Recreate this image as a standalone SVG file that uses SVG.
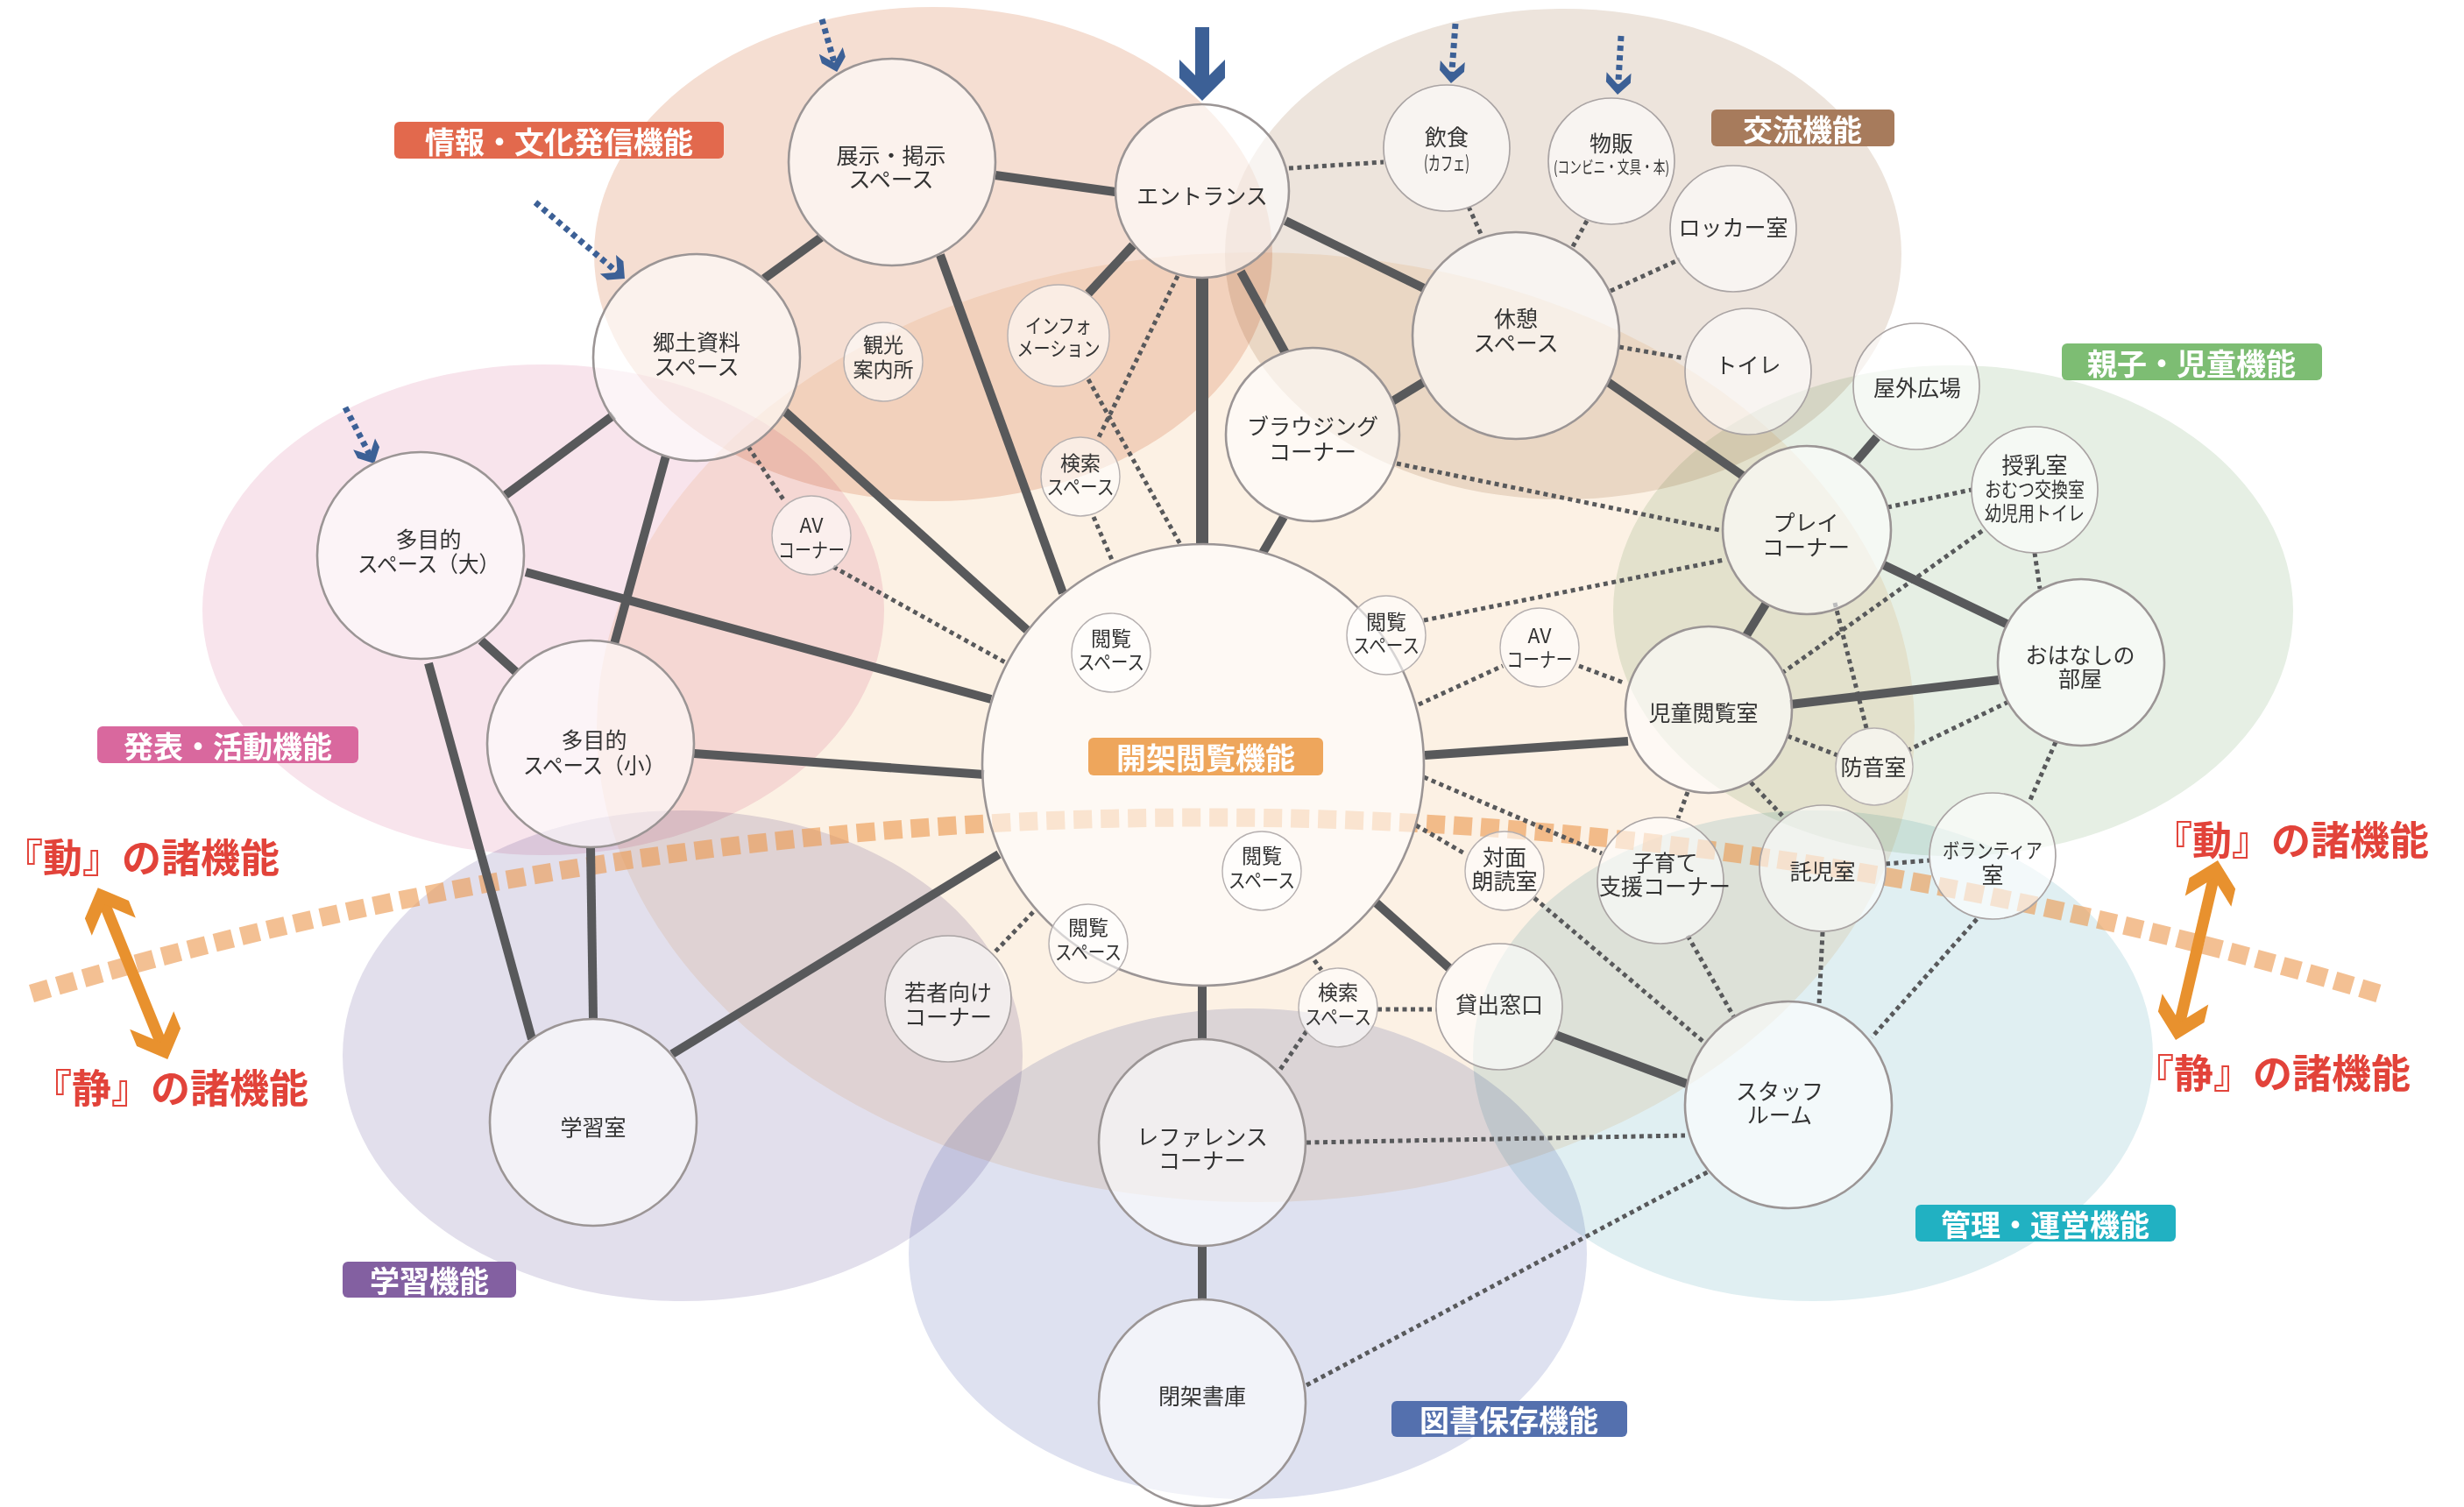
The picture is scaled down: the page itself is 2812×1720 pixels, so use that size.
<svg xmlns="http://www.w3.org/2000/svg" width="2812" height="1720" viewBox="0 0 2812 1720">
<defs>
<style>
text{font-family:'Noto Sans CJK JP','Noto Sans CJK SC','Noto Sans',sans-serif;}
.blob{mix-blend-mode:multiply;}
.c1{fill:#fff;fill-opacity:.6;stroke:#9b9595;stroke-width:2.6;}
.c2{fill:#fff;fill-opacity:.6;stroke:#aaa4a4;stroke-width:1.7;}
.c3{fill:#fff;fill-opacity:.6;stroke:#b6b0b0;stroke-width:1.4;}
.t{font-size:25px;fill:#333;text-anchor:middle;dominant-baseline:central;}
.ts{font-size:23px;fill:#333;text-anchor:middle;dominant-baseline:central;}
.sl{stroke:#58595b;stroke-width:10;fill:none;}
.dl{stroke:#58595b;stroke-width:5;stroke-dasharray:5 4.5;fill:none;}
.lab{font-size:34px;font-weight:bold;fill:#fff;text-anchor:middle;dominant-baseline:central;}
.red{font-size:45px;font-weight:bold;fill:#e2433a;dominant-baseline:central;}
.barr{stroke:#3c6096;stroke-width:7;stroke-dasharray:6 5;fill:none;}
.oarr{stroke:#e8912e;stroke-width:13;fill:none;}
</style>
<marker id="hbig" markerUnits="userSpaceOnUse" viewBox="-50 -30 52 60" markerWidth="52" markerHeight="60" refX="-10" refY="0" orient="auto">
<path d="M0,0 L-26,26 L-47,26 L-21,0 L-47,-26 L-26,-26 Z" fill="#3c6096"/>
</marker>
<marker id="hsm" markerUnits="userSpaceOnUse" viewBox="-28 -16 30 32" markerWidth="30" markerHeight="32" refX="-6" refY="0" orient="auto">
<path d="M0,0 L-14,14 L-25,14 L-11,0 L-25,-14 L-14,-14 Z" fill="#3c6096"/>
</marker>
<marker id="horg" markerUnits="userSpaceOnUse" viewBox="-52 -30 54 60" markerWidth="54" markerHeight="60" refX="-10" refY="0" orient="auto-start-reverse">
<path d="M0,0 L-27,27 L-48,27 L-21,0 L-48,-27 L-27,-27 Z" fill="#e8912e"/>
</marker>
</defs>
<rect x="0" y="0" width="2812" height="1720" fill="#fff"/>

<g id="zones">
<ellipse class="blob" cx="1433" cy="830" rx="752" ry="542" fill="#fcf1e4"/>
<ellipse class="blob" cx="1065" cy="290" rx="387" ry="282" fill="#f5ded2"/>
<ellipse class="blob" cx="1784" cy="290" rx="386" ry="280" fill="#ede4dc"/>
<ellipse class="blob" cx="620" cy="696" rx="389" ry="280" fill="#f8e4ec"/>
<ellipse class="blob" cx="779" cy="1205" rx="388" ry="280" fill="#e2dfec"/>
<ellipse class="blob" cx="1424" cy="1431" rx="387" ry="280" fill="#dee1f0"/>
<ellipse class="blob" cx="2069" cy="1205" rx="388" ry="280" fill="#e0eff2"/>
<ellipse class="blob" cx="2229" cy="697" rx="388" ry="280" fill="#e6efe4"/>
</g>

<g id="divider">
<path d="M36,1134 Q1376,732 2715,1134" fill="none" stroke="#eb9a50" stroke-opacity="0.62" stroke-width="21" stroke-dasharray="21 10"/>
</g>

<g id="connectors">
<line class="sl" x1="1136" y1="200" x2="1273" y2="219"/>
<line class="sl" x1="872" y1="318" x2="937" y2="271"/>
<line class="sl" x1="1073" y1="291" x2="1213" y2="677"/>
<line class="sl" x1="577" y1="565" x2="700" y2="474"/>
<line class="sl" x1="760" y1="520" x2="701" y2="735"/>
<line class="sl" x1="895" y1="469" x2="1172" y2="719"/>
<line class="sl" x1="600" y1="653" x2="1131" y2="798"/>
<line class="sl" x1="549" y1="731" x2="589" y2="767"/>
<line class="sl" x1="489" y1="757" x2="607" y2="1186"/>
<line class="sl" x1="674" y1="967" x2="677" y2="1163"/>
<line class="sl" x1="792" y1="860" x2="1123" y2="884"/>
<line class="sl" x1="767" y1="1203" x2="1140" y2="975"/>
<line class="sl" x1="1293" y1="280" x2="1242" y2="335"/>
<line class="sl" x1="1372" y1="317" x2="1372" y2="621" style="stroke-width:14"/>
<line class="sl" x1="1416" y1="310" x2="1467" y2="403"/>
<line class="sl" x1="1467" y1="252" x2="1625" y2="329"/>
<line class="sl" x1="1465" y1="590" x2="1441" y2="631"/>
<line class="sl" x1="1589" y1="458" x2="1625" y2="436"/>
<line class="sl" x1="1835" y1="436" x2="1989" y2="543"/>
<line class="sl" x1="2118" y1="527" x2="2142" y2="499"/>
<line class="sl" x1="2016" y1="688" x2="1992" y2="727"/>
<line class="sl" x1="2148" y1="644" x2="2292" y2="713"/>
<line class="sl" x1="2043" y1="804" x2="2281" y2="776"/>
<line class="sl" x1="1626" y1="862" x2="1858" y2="846"/>
<line class="sl" x1="1570" y1="1030" x2="1654" y2="1105"/>
<line class="sl" x1="1775" y1="1181" x2="1925" y2="1237"/>
<line class="sl" x1="1372" y1="1126" x2="1372" y2="1186"/>
<line class="sl" x1="1372" y1="1422" x2="1372" y2="1484"/>

<line class="dl" x1="1471" y1="192" x2="1579" y2="185"/>
<line class="dl" x1="1676" y1="236" x2="1691" y2="269"/>
<line class="dl" x1="1811" y1="252" x2="1793" y2="285"/>
<line class="dl" x1="1838" y1="332" x2="1917" y2="296"/>
<line class="dl" x1="1848" y1="396" x2="1923" y2="409"/>
<line class="dl" x1="1594" y1="529" x2="1967" y2="606"/>
<line class="dl" x1="1344" y1="315" x2="1254" y2="499"/>
<line class="dl" x1="1242" y1="433" x2="1348" y2="623"/>
<line class="dl" x1="1248" y1="590" x2="1269" y2="639"/>
<line class="dl" x1="854" y1="510" x2="896" y2="573"/>
<line class="dl" x1="951" y1="647" x2="1149" y2="757"/>
<line class="dl" x1="1625" y1="708" x2="1968" y2="639"/>
<line class="dl" x1="1619" y1="804" x2="1715" y2="760"/>
<line class="dl" x1="1802" y1="760" x2="1855" y2="780"/>
<line class="dl" x1="2154" y1="579" x2="2250" y2="559"/>
<line class="dl" x1="2262" y1="606" x2="2034" y2="768"/>
<line class="dl" x1="2322" y1="631" x2="2328" y2="672"/>
<line class="dl" x1="2094" y1="688" x2="2130" y2="831"/>
<line class="dl" x1="2292" y1="801" x2="2178" y2="856"/>
<line class="dl" x1="2040" y1="840" x2="2097" y2="862"/>
<line class="dl" x1="2346" y1="847" x2="2316" y2="915"/>
<line class="dl" x1="1998" y1="893" x2="2034" y2="931"/>
<line class="dl" x1="1926" y1="904" x2="1915" y2="934"/>
<line class="dl" x1="2152" y1="986" x2="2202" y2="982"/>
<line class="dl" x1="2080" y1="1064" x2="2076" y2="1146"/>
<line class="dl" x1="2256" y1="1049" x2="2136" y2="1184"/>
<line class="dl" x1="1926" y1="1068" x2="1979" y2="1161"/>
<line class="dl" x1="1751" y1="1025" x2="1944" y2="1189"/>
<line class="dl" x1="1491" y1="1304" x2="1923" y2="1296"/>
<line class="dl" x1="1491" y1="1581" x2="1950" y2="1337"/>
<line class="dl" x1="1625" y1="887" x2="1828" y2="974"/>
<line class="dl" x1="1616" y1="942" x2="1673" y2="975"/>
<line class="dl" x1="1179" y1="1041" x2="1134" y2="1088"/>
<line class="dl" x1="1500" y1="1096" x2="1508" y2="1107"/>
<line class="dl" x1="1572" y1="1152" x2="1639" y2="1152"/>
<line class="dl" x1="1491" y1="1177" x2="1458" y2="1225"/>
</g>

<g id="entry-arrows">
<line x1="1372" y1="31" x2="1372" y2="105" stroke="#3c6096" stroke-width="16" marker-end="url(#hbig)"/>
<line class="barr" x1="938" y1="22" x2="953.5" y2="76.2" marker-end="url(#hsm)"/>
<line class="barr" x1="611" y1="231" x2="708.4" y2="314.1" marker-end="url(#hsm)"/>
<line class="barr" x1="394" y1="465" x2="424.3" y2="523.7" marker-end="url(#hsm)"/>
<line class="barr" x1="1661" y1="27" x2="1656.4" y2="89" marker-end="url(#hsm)"/>
<line class="barr" x1="1850" y1="41" x2="1846.4" y2="102" marker-end="url(#hsm)"/>
</g>

<g id="n-kaika"><circle class="c1" cx="1373" cy="873" r="252"/></g>
<g id="n-tenji"><circle class="c1" cx="1018" cy="185" r="118"/><text class="t"><tspan x="1017" y="176">展示・掲示</tspan><tspan x="1017" y="203">スペース</tspan></text></g>
<g id="n-kyodo"><circle class="c1" cx="795" cy="408" r="118"/><text class="t"><tspan x="795" y="389">郷土資料</tspan><tspan x="795" y="417">スペース</tspan></text></g>
<g id="n-tamokuteki-dai"><circle class="c1" cx="480" cy="634" r="118"/><text class="t"><tspan x="489" y="614">多目的</tspan><tspan x="489" y="642" textLength="162" lengthAdjust="spacingAndGlyphs">スペース（大）</tspan></text></g>
<g id="n-tamokuteki-sho"><circle class="c1" cx="674" cy="849" r="118"/><text class="t"><tspan x="678" y="843">多目的</tspan><tspan x="678" y="872" textLength="162" lengthAdjust="spacingAndGlyphs">スペース（小）</tspan></text></g>
<g id="n-gakushu"><circle class="c1" cx="677" cy="1281" r="118"/><text class="t" x="677" y="1285">学習室</text></g>
<g id="n-av-l"><circle class="c3" cx="926" cy="611" r="45"/><text class="ts"><tspan x="926" y="598">AV</tspan><tspan x="926" y="626" textLength="76" lengthAdjust="spacingAndGlyphs">コーナー</tspan></text></g>
<g id="n-kanko"><circle class="c3" cx="1008" cy="413" r="45"/><text class="ts"><tspan x="1008" y="392">観光</tspan><tspan x="1008" y="420">案内所</tspan></text></g>
<g id="n-entrance"><circle class="c1" cx="1372" cy="218" r="99"/><text class="t" x="1372" y="222">エントランス</text></g>
<g id="n-info"><circle class="c3" cx="1208" cy="383" r="58"/><text class="ts"><tspan x="1208" y="370" textLength="76" lengthAdjust="spacingAndGlyphs">インフォ</tspan><tspan x="1208" y="396" textLength="95" lengthAdjust="spacingAndGlyphs">メーション</tspan></text></g>
<g id="n-kensaku-u"><circle class="c3" cx="1233" cy="544" r="45"/><text class="ts"><tspan x="1233" y="527">検索</tspan><tspan x="1233" y="554" textLength="77" lengthAdjust="spacingAndGlyphs">スペース</tspan></text></g>
<g id="n-etsuran-ul"><circle class="c3" cx="1268" cy="745" r="45"/><text class="ts"><tspan x="1268" y="727">閲覧</tspan><tspan x="1268" y="754" textLength="76" lengthAdjust="spacingAndGlyphs">スペース</tspan></text></g>
<g id="n-browsing"><circle class="c1" cx="1498" cy="496" r="99"/><text class="t"><tspan x="1498" y="485">ブラウジング</tspan><tspan x="1498" y="514">コーナー</tspan></text></g>
<g id="n-inshoku"><circle class="c2" cx="1651" cy="169" r="72"/><text class="t" x="1651" y="155">飲食</text><text class="ts" x="1651" y="184" style="font-size:22px" textLength="52" lengthAdjust="spacingAndGlyphs">(カフェ)</text></g>
<g id="n-buppan"><circle class="c2" cx="1839" cy="184" r="72"/><text class="t" x="1839" y="162">物販</text><text class="ts" x="1839" y="189" style="font-size:19px" textLength="132" lengthAdjust="spacingAndGlyphs">(コンビニ・文具・本)</text></g>
<g id="n-kyukei"><circle class="c1" cx="1730" cy="383" r="118"/><text class="t"><tspan x="1730" y="362">休憩</tspan><tspan x="1730" y="390">スペース</tspan></text></g>
<g id="n-locker"><circle class="c2" cx="1978" cy="261" r="72"/><text class="t" x="1978" y="258">ロッカー室</text></g>
<g id="n-toilet"><circle class="c2" cx="1995" cy="424" r="72"/><text class="t" x="1995" y="415">トイレ</text></g>
<g id="n-okugai"><circle class="c2" cx="2187" cy="441" r="72"/><text class="t" x="2188" y="441">屋外広場</text></g>
<g id="n-junyu"><circle class="c2" cx="2322" cy="559" r="72"/><text class="t" x="2322" y="529">授乳室</text><text class="ts"><tspan x="2322" y="557" textLength="114" lengthAdjust="spacingAndGlyphs">おむつ交換室</tspan><tspan x="2322" y="584" textLength="114" lengthAdjust="spacingAndGlyphs">幼児用トイレ</tspan></text></g>
<g id="n-play"><circle class="c1" cx="2062" cy="605" r="96"/><text class="t"><tspan x="2061" y="595">プレイ</tspan><tspan x="2061" y="623">コーナー</tspan></text></g>
<g id="n-ohanashi"><circle class="c1" cx="2375" cy="756" r="95"/><text class="t"><tspan x="2374" y="746">おはなしの</tspan><tspan x="2374" y="773">部屋</tspan></text></g>
<g id="n-jido"><circle class="c1" cx="1950" cy="810" r="95"/><text class="t" x="1944" y="812">児童閲覧室</text></g>
<g id="n-etsuran-ur"><circle class="c3" cx="1582" cy="725" r="45"/><text class="ts"><tspan x="1582" y="708">閲覧</tspan><tspan x="1582" y="735" textLength="76" lengthAdjust="spacingAndGlyphs">スペース</tspan></text></g>
<g id="n-av-r"><circle class="c3" cx="1757" cy="739" r="45"/><text class="ts"><tspan x="1757" y="724">AV</tspan><tspan x="1757" y="751" textLength="75" lengthAdjust="spacingAndGlyphs">コーナー</tspan></text></g>
<g id="n-boon"><circle class="c3" cx="2139" cy="875" r="44"/><text class="t" x="2138" y="874">防音室</text></g>
<g id="n-takuji"><circle class="c2" cx="2080" cy="991" r="72"/><text class="t" x="2080" y="993">託児室</text></g>
<g id="n-volunteer"><circle class="c2" cx="2274" cy="977" r="72"/><text class="ts" x="2274" y="969" textLength="114" lengthAdjust="spacingAndGlyphs">ボランティア</text><text class="t" x="2274" y="997">室</text></g>
<g id="n-kosodate"><circle class="c2" cx="1895" cy="1005" r="72"/><text class="t"><tspan x="1900" y="983">子育て</tspan><tspan x="1900" y="1010">支援コーナー</tspan></text></g>
<g id="n-taimen"><circle class="c3" cx="1717" cy="994" r="45"/><text class="t"><tspan x="1717" y="977">対面</tspan><tspan x="1717" y="1004">朗読室</tspan></text></g>
<g id="n-etsuran-lc"><circle class="c3" cx="1440" cy="994" r="45"/><text class="ts"><tspan x="1440" y="975">閲覧</tspan><tspan x="1440" y="1003" textLength="76" lengthAdjust="spacingAndGlyphs">スペース</tspan></text></g>
<g id="n-etsuran-ll"><circle class="c3" cx="1242" cy="1077" r="45"/><text class="ts"><tspan x="1242" y="1057">閲覧</tspan><tspan x="1242" y="1085" textLength="76" lengthAdjust="spacingAndGlyphs">スペース</tspan></text></g>
<g id="n-wakamono"><circle class="c2" cx="1082" cy="1140" r="72"/><text class="t"><tspan x="1082" y="1131">若者向け</tspan><tspan x="1082" y="1159">コーナー</tspan></text></g>
<g id="n-kensaku-l"><circle class="c3" cx="1527" cy="1150" r="45"/><text class="ts"><tspan x="1527" y="1131">検索</tspan><tspan x="1527" y="1159" textLength="76" lengthAdjust="spacingAndGlyphs">スペース</tspan></text></g>
<g id="n-kashidashi"><circle class="c2" cx="1711" cy="1149" r="72"/><text class="t" x="1711" y="1145">貸出窓口</text></g>
<g id="n-staff"><circle class="c1" cx="2041" cy="1261" r="118"/><text class="t"><tspan x="2031" y="1244">スタッフ</tspan><tspan x="2031" y="1271">ルーム</tspan></text></g>
<g id="n-reference"><circle class="c1" cx="1372" cy="1304" r="118"/><text class="t"><tspan x="1372" y="1296">レファレンス</tspan><tspan x="1372" y="1323">コーナー</tspan></text></g>
<g id="n-heika"><circle class="c1" cx="1372" cy="1601" r="118"/><text class="t" x="1372" y="1592">閉架書庫</text></g>

<g id="zone-labels">
<g id="lab-joho"><rect x="450" y="139" width="376" height="42" rx="6" fill="#e2694d"/><text class="lab" x="638" y="160">情報・文化発信機能</text></g>
<g id="lab-koryu"><rect x="1953" y="125" width="209" height="42" rx="6" fill="#a77b5c"/><text class="lab" x="2057" y="146">交流機能</text></g>
<g id="lab-oyako"><rect x="2353" y="392" width="297" height="42" rx="6" fill="#7dbd73"/><text class="lab" x="2501" y="413">親子・児童機能</text></g>
<g id="lab-happyo"><rect x="111" y="829" width="298" height="42" rx="6" fill="#d9689e"/><text class="lab" x="260" y="850">発表・活動機能</text></g>
<g id="lab-kaika"><rect x="1242" y="842" width="268" height="43" rx="6" fill="#eea65c"/><text class="lab" x="1376" y="863">開架閲覧機能</text></g>
<g id="lab-gakushu"><rect x="391" y="1440" width="198" height="41" rx="6" fill="#8360a1"/><text class="lab" x="490" y="1460">学習機能</text></g>
<g id="lab-tosho"><rect x="1588" y="1599" width="269" height="41" rx="6" fill="#5470ae"/><text class="lab" x="1722" y="1619">図書保存機能</text></g>
<g id="lab-kanri"><rect x="2186" y="1375" width="297" height="42" rx="6" fill="#21b1c2"/><text class="lab" x="2334" y="1396">管理・運営機能</text></g>
</g>

<g id="dosei">
<text class="red" x="4" y="976">『動』の諸機能</text>
<text class="red" x="37" y="1239">『静』の諸機能</text>
<text class="red" x="2457" y="956">『動』の諸機能</text>
<text class="red" x="2436" y="1222">『静』の諸機能</text>
<line class="oarr" x1="115.5" y1="1022.4" x2="187.5" y2="1199.7" marker-start="url(#horg)" marker-end="url(#horg)"/>
<line class="oarr" x1="2528.7" y1="991.7" x2="2485.3" y2="1177.3" marker-start="url(#horg)" marker-end="url(#horg)"/>
</g>
</svg>
